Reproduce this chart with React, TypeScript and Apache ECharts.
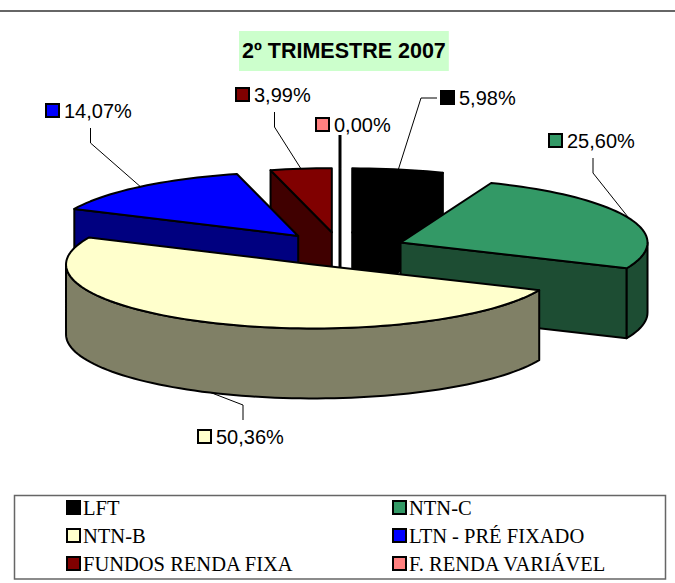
import React, { useEffect, useRef } from "react";
import * as echarts from "echarts";

const categories = ["LFT", "NTN-C", "NTN-B", "LTN - PRÉ FIXADO", "FUNDOS RENDA FIXA", "F. RENDA VARIÁVEL"];
const shares = [5.98, 25.6, 50.36, 14.07, 3.99, 0.0];
const titleText = "2º TRIMESTRE 2007";
const legendLeftColumn = ["LFT", "NTN-B", "FUNDOS RENDA FIXA"];
const legendRightColumn = ["NTN-C", "LTN - PRÉ FIXADO", "F. RENDA VARIÁVEL"];

const topColors = ["#000000", "#339966", "#FFFFCC", "#0000FF", "#800000", "#FF8080"];
const wallColors = ["#000000", "#1D4D33", "#808066", "#000080", "#400000", "#804040"];
const paintOrder = [3, 5, 6, 4, 1, 2];

const CX = 340;
const CY = 249;
const RX = 247;
const RY = 64;
const DEPTH = 70;
const EXPLODE = 0.265;

// Leader bends and colour key position of each data label, relative to the page.
const labelLayout = [
  { bends: [[421, 98], [437, 98]], keyX: 441, keyY: 91 },
  { bends: [[593, 173], [593, 158]], keyX: 549, keyY: 134 },
  { bends: [[243, 405], [243, 420]], keyX: 198, keyY: 430 },
  { bends: [[90.5, 143], [90.5, 128]], keyX: 46, keyY: 104 },
  { bends: [[274.5, 127], [274.5, 112]], keyX: 236, keyY: 88 },
  { bends: [[340, 135]], keyX: 316, keyY: 118 },
];

const total = shares.reduce((a, b) => a + b, 0);
const rad = (d: number) => (d * Math.PI) / 180;

function sliceGeometry(i: number) {
  const before = shares.slice(0, i).reduce((a, b) => a + b, 0);
  const start = (before / total) * 360;
  const end = ((before + shares[i]) / total) * 360;
  const mid = (start + end) / 2;
  const ax = CX + EXPLODE * RX * Math.sin(rad(mid));
  const ay = CY - EXPLODE * RY * Math.cos(rad(mid));
  const rim = (deg: number, drop = 0): number[] => [
    ax + RX * Math.sin(rad(deg)),
    ay - RY * Math.cos(rad(deg)) + drop,
  ];
  return { start, end, mid, ax, ay, rim };
}

function arcPoints(rim: (d: number, drop?: number) => number[], a: number, b: number, drop = 0) {
  const pts: number[][] = [];
  const n = Math.max(1, Math.ceil(Math.abs(b - a) / 2));
  for (let k = 0; k <= n; k++) pts.push(rim(a + ((b - a) * k) / n, drop));
  return pts;
}

function renderSlice(i: number) {
  const { start, end, mid, ax, ay, rim } = sliceGeometry(i);
  const edge = { stroke: "#000", lineWidth: 2, lineJoin: "round" as const };
  const wall = { ...edge, fill: wallColors[i] };
  const children: any[] = [];
  let z = 1;
  const add = (el: any) => children.push({ ...el, z2: z++ });

  const radial = (deg: number) => {
    const p = rim(deg);
    const q = rim(deg, DEPTH);
    add({ type: "polygon", shape: { points: [[ax, ay], p, q, [ax, ay + DEPTH]] }, style: wall });
  };
  if (Math.sin(rad(start)) < 0) radial(start);
  if (Math.sin(rad(end)) > 0 && end > start) radial(end);

  const a = Math.max(start, 90);
  const b = Math.min(end, 270);
  if (b > a) {
    add({
      type: "polygon",
      shape: { points: [...arcPoints(rim, a, b), ...arcPoints(rim, b, a, DEPTH)] },
      style: wall,
    });
  }

  if (end > start) {
    add({
      type: "polygon",
      shape: { points: [[ax, ay], ...arcPoints(rim, start, end)] },
      style: { ...edge, fill: topColors[i] },
    });
  } else {
    // A slice of zero share leaves only its standing edge.
    add({
      type: "polyline",
      shape: { points: [rim(start), [ax, ay + DEPTH]] },
      style: { stroke: "#000", lineWidth: 3, fill: "none" },
    });
  }

  const layout = labelLayout[i];
  const anchor = rim(mid, mid > 90 && mid < 270 ? DEPTH : 0);
  add({
    type: "polyline",
    shape: { points: [anchor, ...layout.bends] },
    style: { stroke: "#000", lineWidth: end > start ? 1 : 3, fill: "none" },
  });
  add({
    type: "rect",
    shape: { x: layout.keyX, y: layout.keyY, width: 13, height: 13 },
    style: { fill: topColors[i], stroke: "#000", lineWidth: 2 },
  });
  add({
    type: "text",
    x: layout.keyX + 18,
    y: layout.keyY + 7,
    style: {
      text: shares[i].toFixed(2).replace(".", ",") + "%",
      fill: "#000",
      fontSize: 20,
      fontFamily: "Liberation Sans",
      align: "left",
      verticalAlign: "middle",
    },
  });
  return { type: "group", children };
}

const legendItem = (name: string) => ({
  name,
  icon: "rect",
  itemStyle: {
    color: topColors[categories.indexOf(name)],
    borderColor: "#000",
    borderWidth: 2,
  },
});

const legendBase = {
  orient: "vertical" as const,
  top: 497,
  itemWidth: 13,
  itemHeight: 13,
  itemGap: 7,
  padding: 0,
  selectedMode: false,
  textStyle: { fontFamily: "Liberation Serif", fontSize: 20.5, color: "#000", padding: [0, 0, 0, -2] },
};

export default function App() {
  const ref = useRef<HTMLDivElement>(null);
  useEffect(() => {
    const chart = echarts.init(ref.current!, undefined, { renderer: "svg" });
    chart.setOption({
      animation: false,
      backgroundColor: "#fff",
      title: {
        text: titleText,
        left: 239,
        top: 31,
        padding: [9, 3, 9, 3],
        backgroundColor: "#CCFFCC",
        textStyle: { fontFamily: "Liberation Sans", fontWeight: "bold", fontSize: 21.5, color: "#000" },
      },
      legend: [
        { ...legendBase, left: 66, data: legendLeftColumn.map(legendItem) },
        { ...legendBase, left: 392, data: legendRightColumn.map(legendItem) },
      ],
      graphic: [
        {
          type: "line",
          shape: { x1: 0, y1: 11, x2: 675, y2: 11 },
          style: { stroke: "#333", lineWidth: 1.5 },
        },
        {
          type: "rect",
          shape: { x: 14.5, y: 495.5, width: 651, height: 83.5 },
          style: { fill: "none", stroke: "#666", lineWidth: 1.5 },
        },
      ],
      series: categories.map((name, i) => ({
        type: "custom",
        name,
        coordinateSystem: "none",
        z: paintOrder[i],
        silent: true,
        itemStyle: { color: topColors[i] },
        data: [[shares[i]]],
        renderItem: () => renderSlice(i),
      })),
    });
    return () => chart.dispose();
  }, []);
  return <div ref={ref} style={{ position: "absolute", left: 0, top: 0, width: 675, height: 583 }} />;
}
